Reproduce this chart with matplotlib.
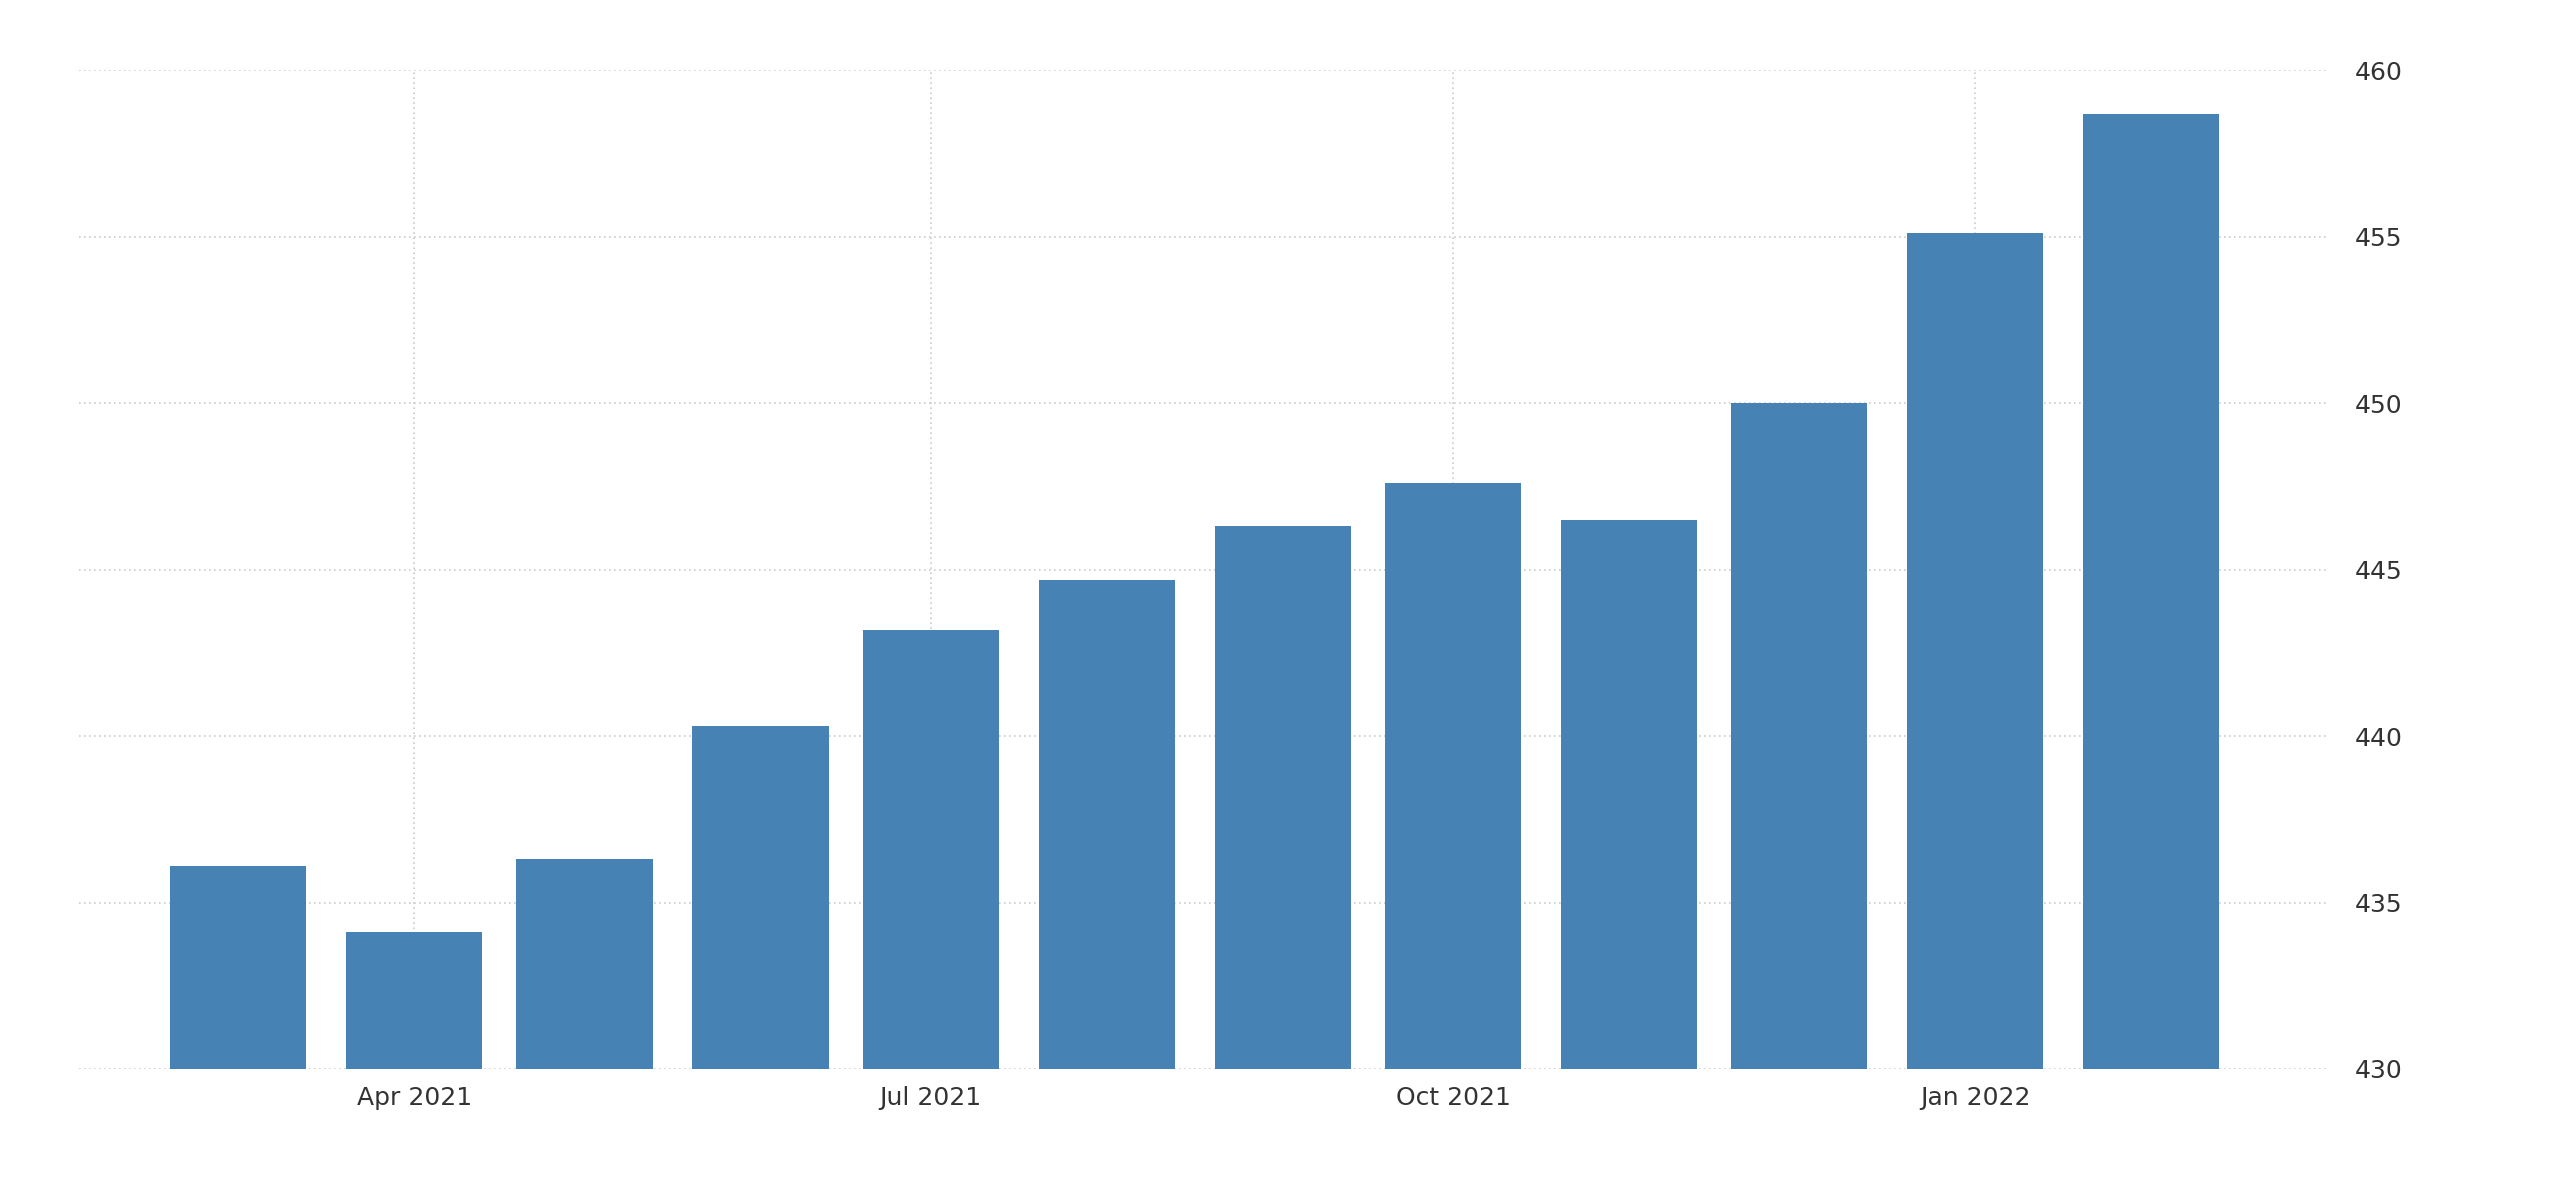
import matplotlib
matplotlib.use("Agg")
import matplotlib.pyplot as plt
import matplotlib.dates as mdates
import numpy as np
import datetime as dt

months = ["2021-03", "2021-04", "2021-05", "2021-06", "2021-07", "2021-08",
          "2021-09", "2021-10", "2021-11", "2021-12", "2022-01", "2022-02"]
values = [436.1, 434.1, 436.3, 440.3, 443.2, 444.7,
          446.3, 447.6, 446.5, 450.0, 455.1, 458.7]

dates = [dt.datetime.strptime(m + "-01", "%Y-%m-%d") for m in months]

fig = plt.figure(figsize=(25.6, 11.93), dpi=100)
ax = fig.add_axes([0.031, 0.104, 0.878, 0.837])

ax.bar(dates, np.array(values) - 430, bottom=430, width=24, color="#4682b4", zorder=2)

ax.set_ylim(430, 460)
ax.set_yticks(range(430, 461, 5))
ax.set_xlim(dt.datetime(2021, 2, 1), dt.datetime(2022, 3, 4))
ax.xaxis.set_major_locator(mdates.MonthLocator(bymonth=[1, 4, 7, 10]))
ax.xaxis.set_major_formatter(mdates.DateFormatter("%b %Y"))

ax.yaxis.tick_right()
ax.tick_params(axis="both", length=0, labelsize=18, colors="#333333", pad=12)
ax.tick_params(axis="y", pad=20)
for s in ax.spines.values():
    s.set_visible(False)
ax.grid(True, color="#cccccc", linestyle=(0, (1, 2)), linewidth=1.2, zorder=0)

fig.savefig("out.png", dpi=100, facecolor="white")
